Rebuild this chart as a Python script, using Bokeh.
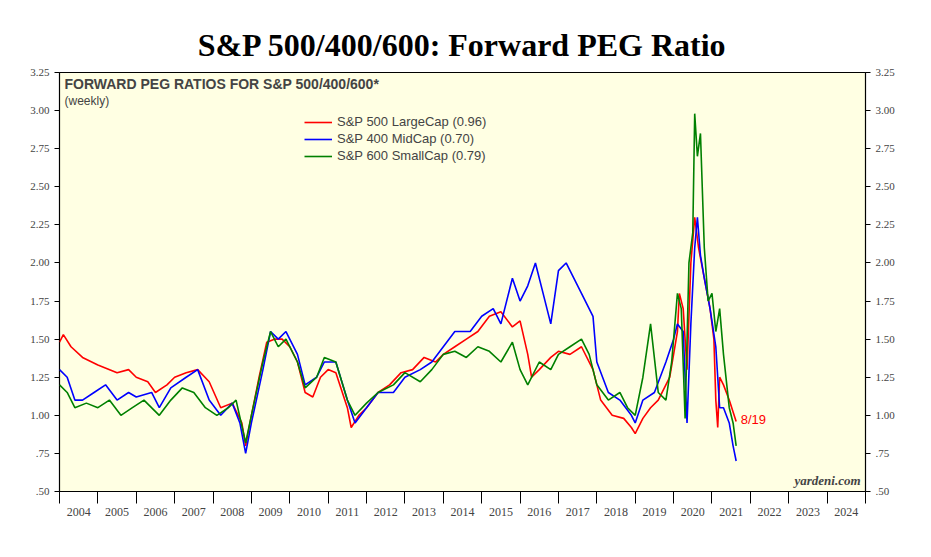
from bokeh.plotting import figure
from bokeh.models import (LinearAxis, FixedTicker, Range1d, Label, Legend, LegendItem)
from bokeh.embed import file_html
from bokeh.resources import INLINE

sp500_t = [2004.0,2004.1,2004.3,2004.6,2005.0,2005.5,2005.8,2006.0,2006.3,2006.5,2006.8,2007.0,2007.3,2007.6,2007.9,2008.2,2008.5,2008.75,2008.85,2009.0,2009.2,2009.4,2009.6,2009.8,2010.0,2010.2,2010.4,2010.6,2010.8,2011.0,2011.2,2011.5,2011.6,2011.8,2012.0,2012.3,2012.6,2012.9,2013.2,2013.5,2013.8,2014.0,2014.3,2014.6,2014.9,2015.2,2015.5,2015.8,2016.0,2016.2,2016.3,2016.5,2016.8,2017.0,2017.3,2017.6,2017.9,2018.1,2018.4,2018.7,2018.9,2019.0,2019.2,2019.4,2019.6,2019.9,2020.1,2020.15,2020.25,2020.35,2020.45,2020.55,2020.65,2020.8,2020.95,2021.05,2021.1,2021.15,2021.2,2021.3,2021.45,2021.63]
sp500_v = [1.48,1.53,1.45,1.38,1.33,1.28,1.30,1.25,1.22,1.15,1.20,1.25,1.28,1.30,1.22,1.05,1.08,0.95,0.80,1.00,1.25,1.48,1.50,1.50,1.45,1.35,1.15,1.12,1.25,1.30,1.28,1.05,0.92,1.00,1.05,1.15,1.20,1.28,1.30,1.38,1.35,1.40,1.45,1.50,1.55,1.65,1.68,1.58,1.62,1.40,1.25,1.30,1.38,1.42,1.40,1.45,1.30,1.10,1.00,0.98,0.92,0.88,0.98,1.05,1.10,1.25,1.55,1.80,1.70,1.30,2.00,2.30,2.10,1.90,1.70,1.50,1.10,0.92,1.25,1.20,1.10,0.96]

sp400_t = [2004.0,2004.2,2004.4,2004.6,2004.9,2005.2,2005.5,2005.8,2006.0,2006.4,2006.6,2006.9,2007.3,2007.6,2007.9,2008.2,2008.5,2008.7,2008.85,2009.0,2009.3,2009.5,2009.7,2009.9,2010.2,2010.4,2010.7,2010.9,2011.2,2011.5,2011.7,2012.0,2012.3,2012.7,2013.0,2013.4,2013.7,2014.0,2014.3,2014.7,2015.0,2015.3,2015.5,2015.8,2016.0,2016.2,2016.4,2016.6,2016.8,2017.0,2017.2,2017.4,2017.6,2017.9,2018.0,2018.3,2018.6,2018.9,2019.0,2019.2,2019.5,2019.8,2020.0,2020.1,2020.25,2020.35,2020.45,2020.55,2020.62,2020.7,2020.8,2020.95,2021.1,2021.2,2021.3,2021.45,2021.55,2021.63]
sp400_v = [1.30,1.25,1.10,1.10,1.15,1.20,1.10,1.15,1.12,1.15,1.05,1.18,1.25,1.30,1.10,1.00,1.08,0.95,0.75,0.95,1.30,1.55,1.50,1.55,1.40,1.20,1.25,1.35,1.35,1.10,0.95,1.05,1.15,1.15,1.25,1.30,1.35,1.45,1.55,1.55,1.65,1.70,1.60,1.90,1.75,1.85,2.00,1.80,1.60,1.95,2.00,1.90,1.80,1.65,1.35,1.15,1.10,1.00,0.95,1.10,1.15,1.35,1.50,1.60,1.55,0.95,1.60,2.10,2.30,2.05,1.90,1.70,1.45,1.05,1.05,0.95,0.80,0.70]

sp600_t = [2004.0,2004.2,2004.4,2004.7,2005.0,2005.3,2005.6,2005.9,2006.2,2006.6,2006.9,2007.2,2007.5,2007.8,2008.1,2008.4,2008.6,2008.85,2009.0,2009.3,2009.5,2009.7,2009.9,2010.2,2010.4,2010.7,2010.9,2011.2,2011.5,2011.7,2012.0,2012.3,2012.7,2013.0,2013.4,2013.7,2014.0,2014.3,2014.6,2014.9,2015.2,2015.5,2015.8,2016.0,2016.2,2016.5,2016.8,2017.0,2017.3,2017.6,2017.8,2018.0,2018.3,2018.6,2018.8,2019.0,2019.2,2019.4,2019.6,2019.8,2019.95,2020.1,2020.2,2020.3,2020.4,2020.5,2020.55,2020.62,2020.7,2020.8,2020.9,2021.0,2021.1,2021.2,2021.3,2021.45,2021.55,2021.63]
sp600_v = [1.20,1.15,1.05,1.08,1.05,1.10,1.00,1.05,1.10,1.00,1.10,1.18,1.15,1.05,1.00,1.05,1.10,0.82,1.00,1.35,1.55,1.45,1.50,1.35,1.18,1.25,1.38,1.35,1.10,1.00,1.08,1.15,1.20,1.28,1.22,1.30,1.40,1.42,1.38,1.45,1.42,1.35,1.48,1.30,1.20,1.35,1.30,1.40,1.45,1.50,1.40,1.20,1.10,1.15,1.05,1.00,1.25,1.60,1.15,1.10,1.35,1.80,1.70,0.98,2.00,2.20,2.98,2.70,2.85,2.10,1.75,1.80,1.55,1.70,1.40,1.05,0.95,0.80]

years = list(range(2004, 2025))
y_ticks = [0.5,0.75,1.0,1.25,1.5,1.75,2.0,2.25,2.5,2.75,3.0,3.25]
y_labels = [".50",".75","1.00","1.25","1.50","1.75","2.00","2.25","2.50","2.75","3.00","3.25"]

FONT = "Liberation Sans"
p = figure(width=915, height=541, output_backend="svg", toolbar_location=None,
           x_range=Range1d(2004, 2025), y_range=Range1d(0.5, 3.25),
           min_border_left=59, min_border_right=50, min_border_top=72, min_border_bottom=50,
           background_fill_color="#FFFFE3", border_fill_color="white")
p.title.text = "S&P 500/400/600: Forward PEG Ratio"
p.title.align = "center"
p.title.text_font = "Liberation Serif"
p.title.text_font_size = "32px"
p.title.text_font_style = "bold"
p.title.text_color = "black"
p.title.offset = 0
p.title.standoff = 20
p.xgrid.visible = False
p.ygrid.visible = False
p.outline_line_color = "black"
p.outline_line_width = 1.2

p.yaxis.visible = False
for side in ("left", "right"):
    ax = LinearAxis(ticker=FixedTicker(ticks=y_ticks),
                    major_label_overrides={t: l for t, l in zip(y_ticks, y_labels)})
    ax.major_label_text_font = "Liberation Serif"
    ax.major_label_text_font_size = "11px"
    ax.major_tick_in = 0
    ax.major_tick_out = 5
    ax.minor_tick_line_color = None
    ax.axis_line_color = None
    p.add_layout(ax, side)

xa = p.xaxis[0]
xa.ticker = FixedTicker(ticks=[y + 0.5 for y in years], minor_ticks=years + [2025])
xa.major_label_overrides = {y + 0.5: str(y) for y in years}
xa.major_tick_in = 0
xa.major_tick_out = 0
xa.minor_tick_in = 0
xa.minor_tick_out = 12
xa.major_label_standoff = 4
xa.major_label_text_font = "Liberation Serif"
xa.major_label_text_font_size = "12px"
xa.axis_line_color = None

r1 = p.line(sp500_t, sp500_v, line_color="#FF0000", line_width=1.6)
r2 = p.line(sp400_t, sp400_v, line_color="#0000FF", line_width=1.6)
r3 = p.line(sp600_t, sp600_v, line_color="#008000", line_width=1.6)

leg = Legend(items=[LegendItem(label="S&P 500 LargeCap (0.96)", renderers=[r1]),
                    LegendItem(label="S&P 400 MidCap (0.70)", renderers=[r2]),
                    LegendItem(label="S&P 600 SmallCap (0.79)", renderers=[r3])],
             location=(245, 328), background_fill_alpha=0, border_line_color=None,
             label_text_font=FONT, label_text_font_size="13px", glyph_width=28,
             label_height=14, spacing=2, padding=0, glyph_height=14)
p.add_layout(leg, "center")

p.add_layout(Label(x=5, y=400, x_units="screen", y_units="screen",
                   text="FORWARD PEG RATIOS FOR S&P 500/400/600*", text_font=FONT,
                   text_font_size="14px", text_font_style="bold"))
p.add_layout(Label(x=5, y=384, x_units="screen", y_units="screen",
                   text="(weekly)", text_font=FONT, text_font_size="12px"))
p.add_layout(Label(x=735, y=4, x_units="screen", y_units="screen",
                   text="yardeni.com", text_font="Liberation Serif",
                   text_font_size="13px", text_font_style="bold italic"))
p.add_layout(Label(x=2021.75, y=0.96, text="8/19", text_color="#FF0000",
                   text_font=FONT, text_font_size="13px", y_offset=-6))
p.add_layout(Label(x=6, y=436, x_units="screen", y_units="screen",
                   text="Figure 13.", text_font=FONT, text_font_size="14px",
                   text_font_style="bold", text_baseline="middle"))
p.add_layout(Label(x=-20, y=-44, x_units="screen", y_units="screen",
                   text="*  Price divided by 52-week forward consensus expected earnings per share relative to consensus 5-year LTEG forecast.",
                   text_font="Liberation Serif", text_font_size="11.5px", text_baseline="middle"))
p.add_layout(Label(x=-6, y=-55, x_units="screen", y_units="screen",
                   text="Source: I/B/E/S data by Refinitiv.",
                   text_font="Liberation Serif", text_font_size="11.5px", text_baseline="middle"))

open("out.html", "w").write(file_html(p, INLINE))
